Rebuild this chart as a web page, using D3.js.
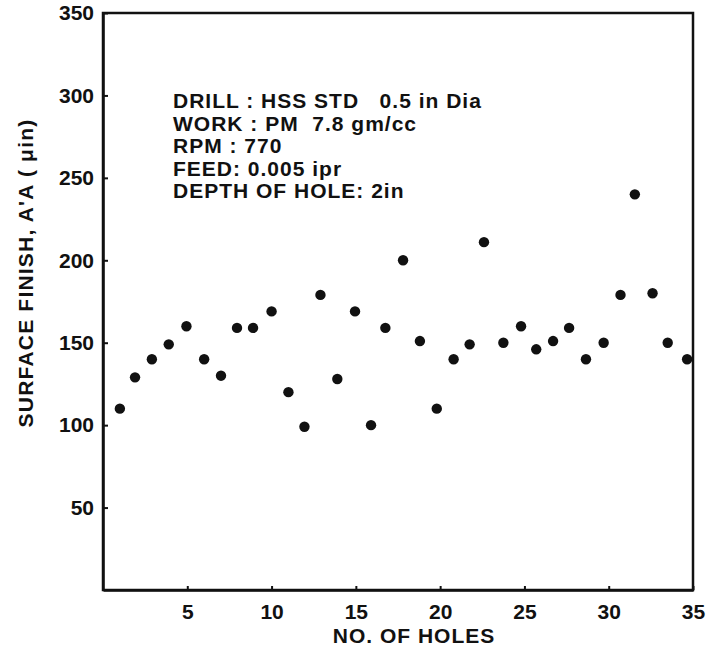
<!DOCTYPE html>
<html>
<head>
<meta charset="utf-8">
<script src="https://cdn.jsdelivr.net/npm/d3@7/dist/d3.min.js"></script>
<style>
  html, body { margin: 0; padding: 0; background: #fff; }
  svg { display: block; }
  text { font-family: "Liberation Sans", Arial, sans-serif; font-weight: bold; fill: #111; }
</style>
</head>
<body>
<div id="chart"></div>
<script>
// Data (hole number as plotted, surface finish in µin)
const holePositions = [1.0, 1.9, 2.9, 3.9, 4.95, 6.0, 7.0, 7.95, 8.9, 10.0,
                       11.0, 11.95, 12.9, 13.9, 14.95, 15.9, 16.75, 17.8, 18.8, 19.8,
                       20.8, 21.75, 22.6, 23.75, 24.8, 25.7, 26.7, 27.65, 28.65, 29.7,
                       30.7, 31.55, 32.6, 33.5, 34.65];
const surfaceFinish = [110, 129, 140, 149, 160, 140, 130, 159, 159, 169,
                       120, 99, 179, 128, 169, 100, 159, 200, 151, 110,
                       140, 149, 211, 150, 160, 146, 151, 159, 140, 150,
                       179, 240, 180, 150, 140];
const xTicks = [5, 10, 15, 20, 25, 30, 35];
const yTicks = [50, 100, 150, 200, 250, 300, 350];
const infoLines = [
  "DRILL : HSS STD   0.5 in Dia",
  "WORK : PM  7.8 gm/cc",
  "RPM : 770",
  "FEED: 0.005 ipr",
  "DEPTH OF HOLE: 2in"
];
const xTitle = "NO. OF HOLES";
const yTitle = "SURFACE FINISH, A'A ( \u03BCin)";

const W = 710, H = 653;
const m = { left: 103, right: 17, top: 13, bottom: 63 };

const svg = d3.select("#chart").append("svg")
  .attr("width", W).attr("height", H);

const x = d3.scaleLinear().domain([0, 35]).range([m.left, W - m.right]);
const y = d3.scaleLinear().domain([0, 350]).range([H - m.bottom, m.top]);

// Frame
svg.append("rect")
  .attr("x", x(0)).attr("y", y(350))
  .attr("width", x(35) - x(0)).attr("height", y(0) - y(350))
  .attr("fill", "none").attr("stroke", "#111").attr("stroke-width", 2.5);

// Axes (inward ticks)
const xAxis = d3.axisBottom(x).tickValues(xTicks).tickSizeInner(-4).tickSizeOuter(0).tickPadding(14);
const yAxis = d3.axisLeft(y).tickValues(yTicks).tickSizeInner(-5).tickSizeOuter(0).tickPadding(9);

const gx = svg.append("g").attr("transform", `translate(0,${y(0)})`).call(xAxis);
const gy = svg.append("g").attr("transform", `translate(${x(0)},0)`).call(yAxis);

[gx, gy].forEach(g => {
  g.select(".domain").attr("stroke", "#111").attr("stroke-width", 2.5);
  g.selectAll(".tick line").attr("stroke", "#111").attr("stroke-width", 2);
  g.selectAll(".tick text")
    .style("font-family", '"Liberation Sans", Arial, sans-serif')
    .style("font-weight", "bold")
    .style("font-size", "21px")
    .attr("fill", "#111");
});

// Points
svg.append("g").selectAll("circle")
  .data(surfaceFinish.map((v, i) => ({ x: holePositions[i], v })))
  .join("circle")
  .attr("cx", d => x(d.x))
  .attr("cy", d => y(d.v))
  .attr("r", 5.2)
  .attr("fill", "#111");

// Info text block
const info = svg.append("text")
  .attr("x", 173).attr("y", 108)
  .style("font-size", "21px")
  .style("letter-spacing", "1px")
  .style("white-space", "pre")
  .attr("xml:space", "preserve");
infoLines.forEach((t, i) => {
  info.append("tspan")
    .attr("x", 173)
    .attr("y", 108 + i * 22.5)
    .text(t);
});

// Axis titles
svg.append("text")
  .attr("x", 414).attr("y", 643)
  .attr("text-anchor", "middle")
  .style("font-size", "21px")
  .style("letter-spacing", "1px")
  .text(xTitle);

svg.append("text")
  .attr("transform", "translate(33,273) rotate(-90)")
  .attr("text-anchor", "middle")
  .style("font-size", "21px")
  .style("letter-spacing", "1.2px")
  .style("white-space", "pre")
  .text(yTitle);
</script>
</body>
</html>
